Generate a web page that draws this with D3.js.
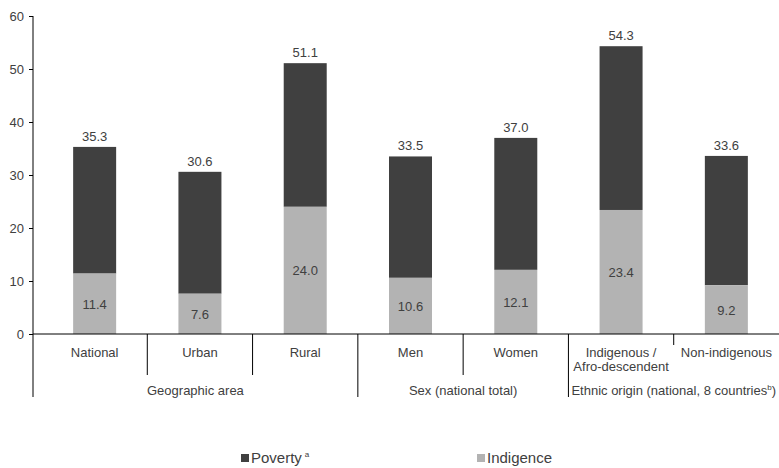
<!DOCTYPE html>
<html>
<head>
<meta charset="utf-8">
<script src="https://cdn.jsdelivr.net/npm/d3@7"></script>
<style>
  body { margin: 0; background: #fff; }
  svg text { font-family: "Liberation Sans", Arial, sans-serif; fill: #404040; }
</style>
</head>
<body>
<svg width="779" height="468"></svg>
<script>
// chart data
var categories = ["National", "Urban", "Rural", "Men", "Women", "Indigenous /\nAfro-descendent", "Non-indigenous"];
var poverty = [35.3, 30.6, 51.1, 33.5, 37.0, 54.3, 33.6];
var indigence = [11.4, 7.6, 24.0, 10.6, 12.1, 23.4, 9.2];
var groups = ["Geographic area", "Sex (national total)", "Ethnic origin (national, 8 countries"];
var groupSizes = [3, 2, 2];
var yTicks = [0, 10, 20, 30, 40, 50, 60];

var svg = d3.select("svg"),
    axisX = 33,
    x0 = 42, x1 = 779,
    yTop = 16, yBottom = 334;

var x = d3.scaleBand().domain(d3.range(categories.length)).range([x0, x1]).paddingInner(0).paddingOuter(0);
var y = d3.scaleLinear().domain([0, 60]).range([yBottom, yTop]);
var barW = 43;

var dark = "#404040", light = "#b3b3b3";

// y axis
var yAxis = d3.axisLeft(y).tickValues(yTicks).tickSize(4).tickPadding(5);
var gy = svg.append("g").attr("transform", "translate(" + axisX + ",0)").call(yAxis);
gy.select(".domain").attr("d", "M0," + yTop + "V397").attr("stroke", "#000");
gy.selectAll(".tick line").attr("stroke", "#000");
gy.selectAll(".tick text").style("font-size", "13px").attr("fill", "#404040");

// bars
var data = categories.map(function(c, i) { return {i: i, total: poverty[i], ind: indigence[i]}; });

var bars = svg.append("g").selectAll("g").data(data).join("g")
    .attr("transform", function(d) { return "translate(" + (x(d.i) + x.bandwidth() / 2 - barW / 2) + ",0)"; });

bars.append("rect")
    .attr("y", function(d) { return y(d.total); })
    .attr("width", barW)
    .attr("height", function(d) { return y(d.ind) - y(d.total); })
    .attr("fill", dark);

bars.append("rect")
    .attr("y", function(d) { return y(d.ind); })
    .attr("width", barW)
    .attr("height", function(d) { return y(0) - y(d.ind); })
    .attr("fill", light);

bars.append("text")
    .attr("x", barW / 2)
    .attr("y", function(d) { return y(d.total) - 6; })
    .attr("text-anchor", "middle")
    .style("font-size", "13px")
    .text(function(d) { return d.total.toFixed(1); });

bars.append("text")
    .attr("x", barW / 2)
    .attr("y", function(d) { return (y(d.ind) + y(0)) / 2 + 5; })
    .attr("text-anchor", "middle")
    .style("font-size", "13px")
    .text(function(d) { return d.ind.toFixed(1); });

// x axis line
svg.append("line")
    .attr("x1", axisX).attr("x2", x1)
    .attr("y1", yBottom).attr("y2", yBottom)
    .attr("stroke", "#000");

// separators between categories
var groupEnds = [];
groupSizes.reduce(function(acc, n) { groupEnds.push(acc + n); return acc + n; }, 0);

d3.range(1, categories.length).forEach(function(i) {
  var isGroup = groupEnds.indexOf(i) >= 0;
  var len = isGroup ? 397 : (i === 6 ? 345 : 375);
  svg.append("line")
      .attr("x1", x(i)).attr("x2", x(i))
      .attr("y1", yBottom).attr("y2", len)
      .attr("stroke", "#000");
});

// category labels
categories.forEach(function(c, i) {
  var lines = c.split("\n");
  var t = svg.append("text")
      .attr("x", x(i) + x.bandwidth() / 2)
      .attr("y", 357)
      .attr("text-anchor", "middle")
      .style("font-size", "13px");
  lines.forEach(function(l, k) {
    t.append("tspan").attr("x", x(i) + x.bandwidth() / 2).attr("dy", k ? 14 : 0).text(l);
  });
});

// group labels
var start = 0;
groups.forEach(function(g, k) {
  var a = start === 0 ? axisX : x(start),
      b = x(start + groupSizes[k] - 1) + x.bandwidth();
  var t = svg.append("text")
      .attr("x", (a + b) / 2)
      .attr("y", 395)
      .attr("text-anchor", "middle")
      .style("font-size", "13px")
      .text(g);
  if (k === 2) {
    t.append("tspan").attr("dy", -5).style("font-size", "8px").text("b");
    t.append("tspan").attr("dy", 5).text(")");
  }
  start += groupSizes[k];
});

// legend
var legend = [{name: "Poverty", sup: "a", color: dark, x: 241}, {name: "Indigence", sup: "", color: light, x: 477}];
var lg = svg.append("g").selectAll("g").data(legend).join("g")
    .attr("transform", function(d) { return "translate(" + d.x + ",454)"; });
lg.append("rect").attr("width", 8).attr("height", 8).attr("fill", function(d) { return d.color; });
var lt = lg.append("text").attr("x", 10).attr("y", 9).style("font-size", "15px")
    .text(function(d) { return d.name; });
lt.append("tspan").attr("dx", 3).attr("dy", -6).style("font-size", "8px").text(function(d) { return d.sup; });
</script>
</body>
</html>
